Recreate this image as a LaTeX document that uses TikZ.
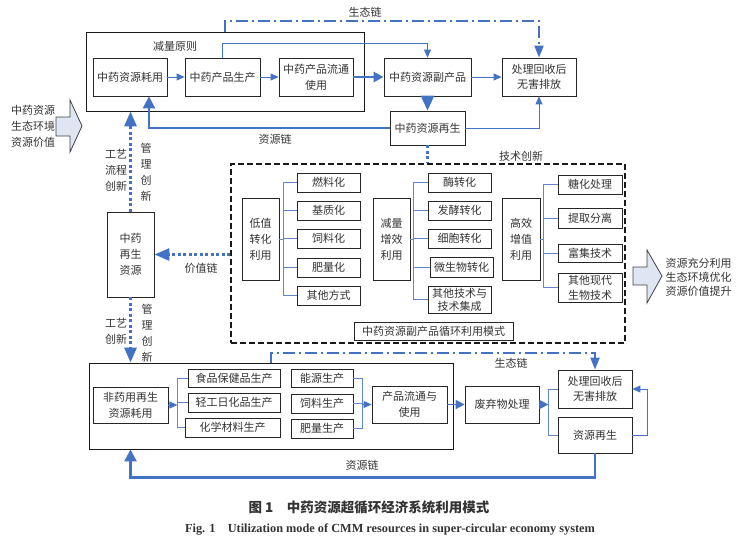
\documentclass[tikz,border=0pt]{standalone}
\usepackage{fontspec}
\setmainfont{Noto Sans CJK SC}
\newfontfamily\figfont{Liberation Serif}
\usepackage{tikz}
\usetikzlibrary{calc,positioning,arrows.meta}
\definecolor{chainblue}{RGB}{68,114,196}
\definecolor{arrowfill}{RGB}{221,230,242}
\tikzset{
  box/.style={draw=black!85, line width=0.8pt, inner sep=0pt, align=center},
  stageframe/.style={draw=black!90, line width=0.9pt, inner sep=0pt},
  flow/.style={draw=chainblue, line width=0.9pt, -{Triangle[length=8pt,width=7pt]}},
  mainflow/.style={draw=chainblue, line width=2.6pt, -{Triangle[length=12pt,width=12pt]}},
  branch/.style={draw=chainblue!85, line width=0.7pt},
  ecochain/.style={draw=chainblue, line width=2pt, dash pattern=on 12pt off 4pt on 2pt off 4pt, -{Triangle[length=12pt,width=9pt]}},
  innov/.style={draw=chainblue, line width=3pt, dash pattern=on 3pt off 2.5pt},
  bigarrow/.style={draw=black!75, line width=0.8pt, fill=arrowfill},
}

\begin{document}
\begin{tikzpicture}[x=1pt,y=-1pt,every node/.append style={font=\fontsize{11pt}{16pt}\selectfont, text=black!80}]
        \useasboundingbox (0,0) rectangle (744,546);

        \node[stageframe, minimum width=278pt, minimum height=79pt] (medframe) at (225,71.5) {};
        \node at (175,46) {减量原则};
        \node[box, minimum width=74pt, minimum height=38pt] (use) at (130,77) {中药资源耗用};
        \node[box, minimum width=75pt, minimum height=38pt] (make) at (222.5,77) {中药产品生产};
        \node[box, minimum width=74pt, minimum height=38pt] (circ) at (316,77) {中药产品流通\\使用};
        \node[box, minimum width=87pt, minimum height=38pt] (byprod) at (427.5,77) {中药资源副产品};
        \node[box, minimum width=74pt, minimum height=38pt] (dispose) at (539,77) {处理回收后\\[-1pt]无害排放};
        \node[box, minimum width=75pt, minimum height=34pt] (regen) at (427.5,128) {中药资源再生};

        \draw[flow] (use) -- (make);
        \draw[flow] (make) -- (circ);
        \draw[mainflow, -{Triangle[length=10pt,width=10pt]}] (circ) -- (byprod);
        \draw[flow] (byprod) -- (dispose);
        \draw[flow] (make.north) -- ++(0,-14) -| (byprod.north);
        \draw[mainflow, -{Triangle[length=15pt,width=13pt]}] (byprod) -- (regen);
        \draw[flow] (regen.east) -| (dispose.south);
        \draw[mainflow] (regen.west) -| ([xshift=19pt]use.south);
        \draw[ecochain] (medframe.north) -- ++(0,-11) -| (dispose.north);
        \node at (365,12) {生态链};
        \node at (275,139) {资源链};

        \draw[bigarrow] (56,117) -- (70,117) -- (70,100) -- (82,126) -- (70,152) -- (70,136) -- (56,136) -- cycle;
        \node[align=center] at (33,126) {中药资源\\生态环境\\资源价值};

        \node[stageframe, line width=1.3pt, dash pattern=on 6pt off 3pt, minimum width=394pt, minimum height=179pt] (techframe) at (428,253.5) {};
        \node at (521,156) {技术创新};
        \draw[innov] (regen.south) -- (regen.south |- techframe.north);

        \node[box, minimum width=37pt, minimum height=82pt] (lowval) at (260.5,239) {低值\\转化\\利用};
        \foreach \name/\txt/\y in {fuel/燃料化/182.5, substrate/基质化/210.5, feed/饲料化/238.5, fert/肥量化/267.5, others/其他方式/295.5}
          \node[box, minimum width=63pt, minimum height=19pt] (\name) at (328.5,\y) {\txt};
        \coordinate (lowfork) at ([xshift=4pt]lowval.east);
        \draw[branch] (lowval.east) -- (lowfork);
        \draw[branch] foreach \name in {fuel,substrate,feed,fert,others} {(lowfork) |- (\name.west)};

        \node[box, minimum width=37pt, minimum height=82pt] (redval) at (391.5,239) {减量\\增效\\利用};
        \foreach \name/\txt/\y in {enzyme/酶转化/182.5, ferment/发酵转化/210.5, cell/细胞转化/238.5}
          \node[box, minimum width=63pt, minimum height=19pt] (\name) at (459.5,\y) {\txt};
        \node[box, minimum width=63pt, minimum height=20pt] (microbe) at (461.5,267) {微生物转化};
        \node[box, minimum width=63pt, minimum height=27pt] (integ) at (459.5,299.5) {其他技术与\\[-3pt]技术集成};
        \coordinate (redfork) at ([xshift=3pt]redval.east);
        \draw[branch] (redval.east) -- (redfork);
        \draw[branch] foreach \name in {enzyme,ferment,cell,microbe,integ} {(redfork) |- (\name.west)};

        \node[box, minimum width=38pt, minimum height=82pt] (highval) at (521,239) {高效\\增值\\利用};
        \node[box, minimum width=64pt, minimum height=19pt] (sacch) at (590,184.5) {糖化处理};
        \node[box, minimum width=64pt, minimum height=20pt] (extract) at (590,218) {提取分离};
        \node[box, minimum width=64pt, minimum height=18pt] (enrich) at (590,253) {富集技术};
        \node[box, minimum width=64pt, minimum height=29pt] (modern) at (590,287.5) {其他现代\\[-1pt]生物技术};
        \coordinate (highfork) at ([xshift=3pt]highval.east);
        \draw[branch] (highval.east) -- (highfork);
        \draw[branch] foreach \name in {sacch,extract,enrich,modern} {(highfork) |- (\name.west)};

        \node[box, minimum width=159pt, minimum height=18pt] (mode) at (433.5,331) {中药资源副产品循环利用模式};

        \draw[bigarrow] (633,267) -- (647,267) -- (647,250) -- (662,276) -- (647,303) -- (647,285) -- (633,285) -- cycle;
        \node[align=center] at (698.5,277) {资源充分利用\\[-2pt]生态环境优化\\[-2pt]资源价值提升};

        \node[box, minimum width=47pt, minimum height=85pt] (regenres) at (130.5,254.5) {中药\\再生\\资源};
        \draw[innov, -{Triangle[length=15pt,width=12pt]}] (techframe.west |- regenres.east) -- (regenres.east);
        \node at (201,268) {价值链};
        \draw[innov, -{Triangle[length=15pt,width=12pt]}] (regenres.north) -- (regenres.north |- medframe.south);
        \node[align=center] at (116,170) {工艺\\流程\\创新};
        \node[align=center] at (146,172) {管\\理\\创\\新};

        \node[stageframe, minimum width=364pt, minimum height=86pt] (lowframe) at (271,406) {};
        \draw[innov, -{Triangle[length=15pt,width=12pt]}] (regenres.south) -- (regenres.south |- lowframe.north);
        \node[align=center] at (116,331) {工艺\\创新};
        \node[align=center] at (147,333) {管\\理\\创\\新};

        \node[box, minimum width=75pt, minimum height=36pt] (nonmed) at (130.5,405) {非药用再生\\资源耗用};
        \node[box, minimum width=92pt, minimum height=18pt] (food) at (234,378) {食品保健品生产};
        \node[box, minimum width=92pt, minimum height=19pt] (daily) at (234,402.5) {轻工日化品生产};
        \node[box, minimum width=95pt, minimum height=19pt] (chem) at (232.5,427.5) {化学材料生产};
        \coordinate (nonfork) at ([xshift=9pt]nonmed.east);
        \draw[flow] (nonmed.east) -- (nonfork);
        \draw[branch] foreach \name in {food,daily,chem} {(nonfork) |- (\name.west)};

        \node[box, minimum width=62pt, minimum height=18pt] (energy) at (322,378) {能源生产};
        \node[box, minimum width=62pt, minimum height=19pt] (fodder) at (322,403.5) {饲料生产};
        \node[box, minimum width=62pt, minimum height=19pt] (manure) at (322,428.5) {肥量生产};
        \node[box, minimum width=75pt, minimum height=37pt] (market) at (409.5,404.5) {产品流通与\\使用};
        \coordinate (prodjoin) at (362,404.5);
        \draw[branch] foreach \name in {energy,fodder,manure} {(\name.east) -| (prodjoin)};
        \draw[flow] (prodjoin) -- (market.west);

        \node[box, minimum width=74pt, minimum height=37pt] (waste) at (502,404.5) {废弃物处理};
        \draw[flow, line width=1.8pt, -{Triangle[length=9pt,width=9pt]}] (market) -- (waste);
        \node[box, minimum width=74pt, minimum height=38pt] (dispose2) at (595,389) {处理回收后\\[-1pt]无害排放};
        \node[box, minimum width=74pt, minimum height=36pt] (regen3) at (595,435) {资源再生};
        \coordinate (wastefork) at ([xshift=9pt]waste.east);
        \draw[flow, -{Triangle[length=9pt,width=9pt]}] (waste.east) -- (wastefork);
        \draw[branch] (wastefork) |- (dispose2.west) (wastefork) |- (regen3.west);
        \draw[flow] (regen3.east) -- ++(15,0) |- (dispose2.east);
        \draw[mainflow] (regen3.south) -- ++(0,24) -| (nonmed.south |- lowframe.south);
        \node at (362,465) {资源链};
        \draw[ecochain] (lowframe.north) -- ++(0,-10) -| (dispose2.north);
        \node at (511,363) {生态链};

        \node[font=\fontsize{13.5pt}{15pt}\selectfont\bfseries] at (369,507) {图 1\quad 中药资源超循环经济系统利用模式};
        \node[font=\figfont\fontsize{12.3pt}{14pt}\selectfont\bfseries] at (390,530) {Fig. 1\quad Utilization mode of CMM resources in super-circular economy system};
    \end{tikzpicture}
\end{document}
